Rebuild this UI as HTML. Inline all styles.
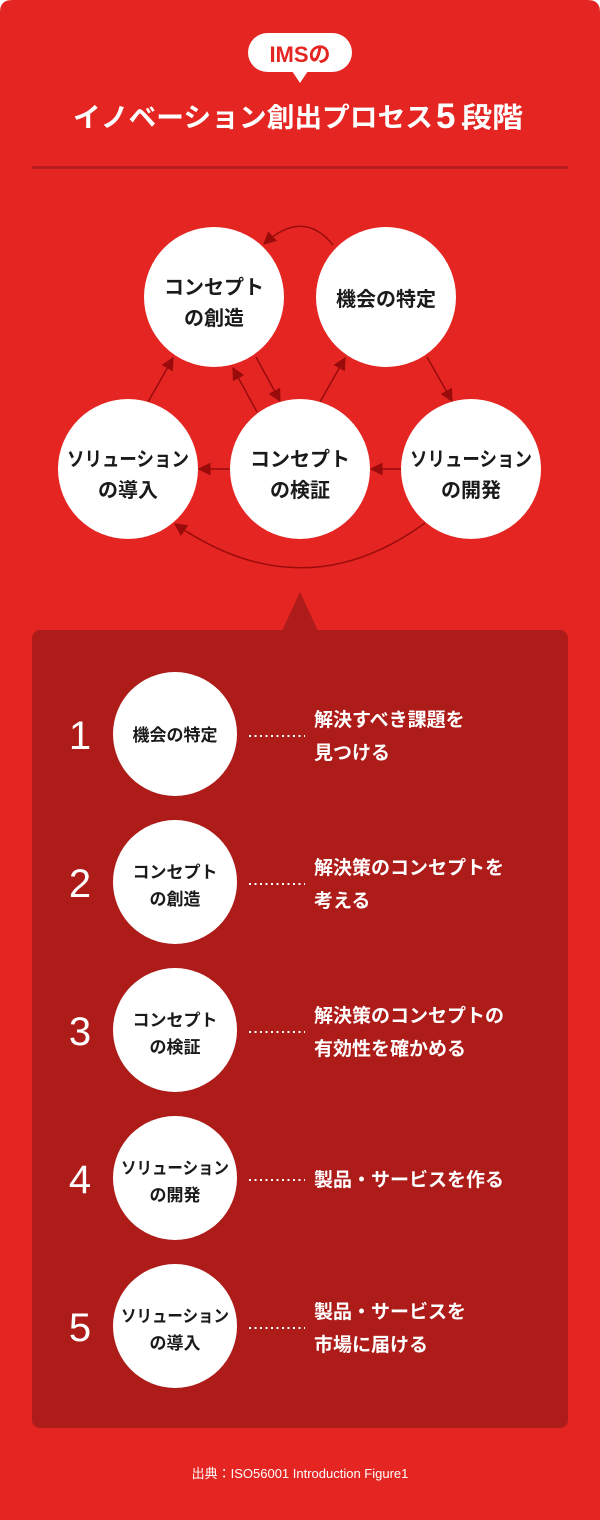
<!DOCTYPE html>
<html><head><meta charset="utf-8"><style>
html,body{margin:0;padding:0;background:#fff;}
svg{display:block;}
text{font-family:"Liberation Sans","Noto Sans CJK JP",sans-serif;font-weight:bold;}
text.n{font-weight:normal;}
</style></head><body>
<svg width="600" height="1520" viewBox="0 0 600 1520" xmlns="http://www.w3.org/2000/svg">
<defs>
<marker id="ah" viewBox="0 0 10 10" refX="9" refY="5" markerWidth="13" markerHeight="13" markerUnits="userSpaceOnUse" orient="auto">
<path d="M0,0 L10,5 L0,10 z" fill="#9a0c0c"/>
</marker>
</defs>
<path d="M12,0 H588 Q600,0 600,12 V1520 H0 V12 Q0,0 12,0 z" fill="#e42521"/>
<rect x="248" y="33" width="104" height="39" rx="19.5" fill="#fff"/>
<path d="M292,71 L308,71 L300,83 z" fill="#fff"/>
<text x="300" y="62" text-anchor="middle" font-size="22" fill="#e42521">IMSの</text>
<text x="73" y="127" font-size="27" fill="#fff" textLength="360" lengthAdjust="spacingAndGlyphs">イノベーション創出プロセス</text>
<text x="436" y="128" font-size="35" fill="#fff">5</text>
<text x="461" y="127" font-size="28" fill="#fff" textLength="62" lengthAdjust="spacingAndGlyphs">段階</text>
<rect x="32" y="166" width="536" height="3" fill="#b71d1a"/>

<g stroke="#9a0c0c" stroke-width="1.5" fill="none" marker-end="url(#ah)">
<path d="M333,245 Q303,208 264,244"/>
<line x1="256" y1="357" x2="280" y2="401"/>
<line x1="257" y1="412" x2="233" y2="368"/>
<line x1="148" y1="402" x2="173" y2="358"/>
<line x1="320" y1="402" x2="345" y2="358"/>
<line x1="427" y1="357" x2="452" y2="401"/>
<line x1="402" y1="469" x2="371" y2="469"/>
<line x1="230" y1="469" x2="199" y2="469"/>
<path d="M425,523 Q303,612 175,524"/>
</g>

<g fill="#fff">
<circle cx="214" cy="297" r="70"/>
<circle cx="386" cy="297" r="70"/>
<circle cx="128" cy="469" r="70"/>
<circle cx="300" cy="469" r="70"/>
<circle cx="471" cy="469" r="70"/>
</g>
<g font-size="20" fill="#1a1a1a" text-anchor="middle">
<text x="214" y="294">コンセプト</text><text x="214" y="325">の創造</text>
<text x="386" y="306">機会の特定</text>
<text x="128" y="466" textLength="122" lengthAdjust="spacingAndGlyphs">ソリューション</text><text x="128" y="497">の導入</text>
<text x="300" y="466">コンセプト</text><text x="300" y="497">の検証</text>
<text x="471" y="466" textLength="122" lengthAdjust="spacingAndGlyphs">ソリューション</text><text x="471" y="497">の開発</text>
</g>

<path d="M282,631 L300,592 L318,631 z" fill="#ad1c19"/>
<rect x="32" y="630" width="536" height="798" rx="8" fill="#ad1c19"/>

<g fill="#fff">
<circle cx="175" cy="734" r="62"/>
<circle cx="175" cy="882" r="62"/>
<circle cx="175" cy="1030" r="62"/>
<circle cx="175" cy="1178" r="62"/>
<circle cx="175" cy="1326" r="62"/>
</g>
<g font-size="40" fill="#fff" text-anchor="middle">
<text class="n" x="80" y="749">1</text>
<text class="n" x="80" y="897">2</text>
<text class="n" x="80" y="1045">3</text>
<text class="n" x="80" y="1193">4</text>
<text class="n" x="80" y="1341">5</text>
</g>
<g font-size="17" fill="#1a1a1a" text-anchor="middle">
<text x="175" y="741">機会の特定</text>
<text x="175" y="878">コンセプト</text><text x="175" y="905">の創造</text>
<text x="175" y="1026">コンセプト</text><text x="175" y="1053">の検証</text>
<text x="175" y="1174" textLength="108" lengthAdjust="spacingAndGlyphs">ソリューション</text><text x="175" y="1201">の開発</text>
<text x="175" y="1322" textLength="108" lengthAdjust="spacingAndGlyphs">ソリューション</text><text x="175" y="1349">の導入</text>
</g>
<g stroke="#fff" stroke-width="2" stroke-dasharray="2,3.5">
<line x1="249" y1="736" x2="305" y2="736"/>
<line x1="249" y1="884" x2="305" y2="884"/>
<line x1="249" y1="1032" x2="305" y2="1032"/>
<line x1="249" y1="1180" x2="305" y2="1180"/>
<line x1="249" y1="1328" x2="305" y2="1328"/>
</g>
<g font-size="19" fill="#fff">
<text x="314" y="726">解決すべき課題を</text><text x="314" y="759">見つける</text>
<text x="314" y="874">解決策のコンセプトを</text><text x="314" y="907">考える</text>
<text x="314" y="1022">解決策のコンセプトの</text><text x="314" y="1055">有効性を確かめる</text>
<text x="314" y="1186">製品・サービスを作る</text>
<text x="314" y="1318">製品・サービスを</text><text x="314" y="1351">市場に届ける</text>
</g>
<text class="n" x="300" y="1478" font-size="13" fill="#fff" text-anchor="middle">出典：ISO56001 Introduction Figure1</text>
</svg>
</body></html>
